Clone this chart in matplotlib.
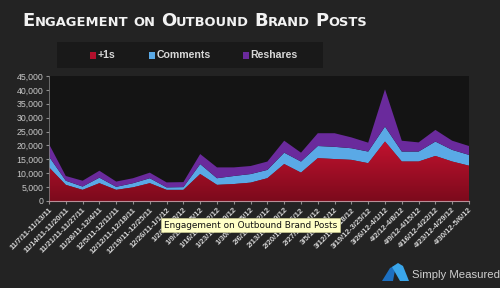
import numpy as np
import matplotlib.pyplot as plt
from matplotlib.patches import Rectangle, Polygon
from matplotlib.colors import LinearSegmentedColormap

weeks = ["11/7/11-11/13/11", "11/14/11-11/20/11", "11/21/11-11/27/11", "11/28/11-12/4/11",
         "12/5/11-12/11/11", "12/12/11-12/18/11", "12/19/11-12/25/11", "12/26/11-1/1/12",
         "1/2/12-1/8/12", "1/9/12-1/15/12", "1/16/12-1/22/12", "1/23/12-1/29/12",
         "1/30/12-2/5/12", "2/6/12-2/12/12", "2/13/12-2/19/12", "2/20/12-2/26/12",
         "2/27/12-3/4/12", "3/5/12-3/11/12", "3/12/12-3/18/12", "3/19/12-3/25/12",
         "3/26/12-4/1/12", "4/2/12-4/8/12", "4/9/12-4/15/12", "4/16/12-4/22/12",
         "4/23/12-4/29/12", "4/30/12-5/6/12"]

plus_ones = [12100, 5800, 4000, 6400, 4000, 4900, 6400, 4000, 4000, 9700, 5800, 6100, 6600,
             8200, 13300, 10200, 15400, 15100, 14800, 13600, 21400, 14200, 14200, 16200, 14200, 12700]
comments = [3900, 1500, 1200, 2000, 1100, 1500, 1800, 900, 1000, 3600, 2400, 2900, 3100,
            3000, 4100, 4000, 4400, 4400, 4200, 4200, 5400, 3600, 3600, 5200, 4200, 3900]
reshares = [4500, 1700, 2100, 2500, 1900, 1800, 2000, 1800, 1800, 3600, 3900, 3100, 2900,
            3000, 4300, 3200, 4600, 4900, 3900, 3200, 13400, 3900, 3300, 4200, 3300, 3200]

legend_labels = ["+1s", "Comments", "Reshares"]
colors = ["#b3102c", "#5aa9e6", "#6a2a9c"]

W, H = 500, 288
x = np.arange(len(weeks))

fig = plt.figure(figsize=(5, 2.88), dpi=100, facecolor="#232323")
ax = fig.add_axes([49 / W, 1 - 201 / H, 420 / W, 125 / H])
ax.set_facecolor("#141414")

layers = ax.stackplot(x, plus_ones, comments, reshares, colors=colors, linewidth=0)

# gradient in the +1s layer
grad = np.linspace(1, 0, 256).reshape(-1, 1)
cmap = LinearSegmentedColormap.from_list("redgrad", ["#7c0a1c", "#c2122f"])
im = ax.imshow(grad, cmap=cmap, extent=[0, len(weeks) - 1, 0, max(plus_ones)],
               aspect="auto", origin="upper", zorder=layers[0].get_zorder() + 0.1)
im.set_clip_path(layers[0].get_paths()[0], transform=ax.transData)

ax.set_xlim(0, len(weeks) - 1)
ax.set_ylim(0, 45000)
ax.set_yticks(range(0, 45001, 5000))
ax.set_yticklabels([f"{v:,}" for v in range(0, 45001, 5000)],
                   fontsize=6.3, color="#c8c8c8", family="Liberation Sans")
ax.set_xticks(x)
ax.set_xticklabels(weeks, rotation=45, ha="right", rotation_mode="anchor",
                   fontsize=5.6, color="#d4d4d4", family="Liberation Sans", fontweight="bold")
ax.tick_params(axis="x", length=2, color="#909090", pad=2)
ax.tick_params(axis="y", length=2, color="#909090", pad=2)
for s in ["top", "right"]:
    ax.spines[s].set_visible(False)
ax.spines["left"].set_color("#7a7a7a")
ax.spines["left"].set_linewidth(0.6)
ax.spines["bottom"].set_color("#b89098")
ax.spines["bottom"].set_linewidth(0.8)

# legend box
fig.patches.append(Rectangle((57 / W, 1 - 68 / H), 266 / W, 26 / H, transform=fig.transFigure,
                             facecolor="#191919", edgecolor="none"))
leg_x = [90, 149, 243]
ly = 1 - 55.5 / H
for lx, lab, c in zip(leg_x, legend_labels, colors):
    fig.patches.append(Rectangle((lx / W, ly - 3 / H), 6 / W, 6 / H, transform=fig.transFigure,
                                 facecolor=c, edgecolor="none"))
    fig.text((lx + 7.5) / W, ly, lab, fontsize=7.6, color="#d8d8d8", family="Liberation Sans",
             fontweight="bold", va="center", ha="left")

# small-caps title
renderer = fig.canvas.get_renderer()
words = ["Engagement", "on", "Outbound", "Brand", "Posts"]
xpos = 22 / W
ybase = 1 - 26 / H
for w in words:
    if w[0].isupper():
        parts = [(w[0], 13), (w[1:].upper(), 9.4)]
    else:
        parts = [(w.upper(), 9.4)]
    for part, size in parts:
        t = fig.text(xpos, ybase, part, fontsize=size, color="#f2f2f2", fontweight="bold",
                     family="DejaVu Sans", va="baseline", ha="left")
        xpos = t.get_window_extent(renderer).x1 / W
    xpos += 5.5 / W

# tooltip
fig.text(164 / W, 1 - 225 / H, "Engagement on Outbound Brand Posts", fontsize=6.4,
         color="#111111", family="DejaVu Sans", va="center", ha="left",
         bbox=dict(boxstyle="square,pad=0.3", facecolor="#ffffc6", edgecolor="#c8c890", linewidth=0.5))

# logo
fig.patches.append(Polygon([(382 / W, 1 - 281 / H), (390 / W, 1 - 268 / H), (396 / W, 1 - 265 / H),
                            (393 / W, 1 - 281 / H)], closed=True, transform=fig.transFigure,
                           facecolor="#1c6fc0", edgecolor="none"))
fig.patches.append(Polygon([(392 / W, 1 - 267 / H), (398 / W, 1 - 263 / H), (403 / W, 1 - 266 / H),
                            (409 / W, 1 - 281 / H), (400 / W, 1 - 281 / H)], closed=True,
                           transform=fig.transFigure, facecolor="#3aa6ea", edgecolor="none"))
fig.text(412 / W, 1 - 275 / H, "Simply Measured", fontsize=8.2, color="#d0d0d0",
         family="Liberation Sans", va="center", ha="left")

fig.savefig("out.png", dpi=100, facecolor=fig.get_facecolor())
